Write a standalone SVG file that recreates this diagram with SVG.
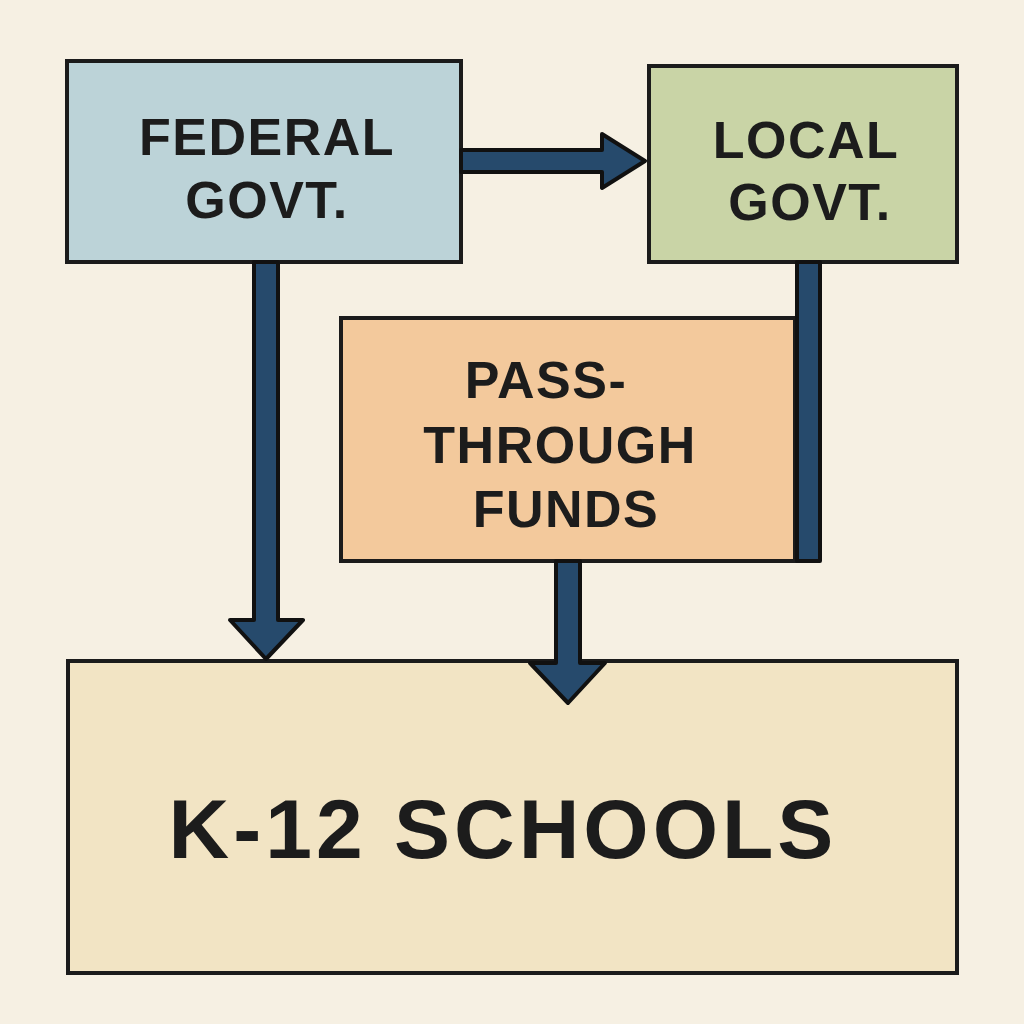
<svg xmlns="http://www.w3.org/2000/svg" width="1024" height="1024" viewBox="0 0 1024 1024">
<style>
.box{stroke:#1b1b1b;stroke-width:4}
.t{font-family:"Liberation Sans",Arial,sans-serif;font-weight:700;fill:#1c1c1c;text-anchor:middle;letter-spacing:1.5px}
.arr{fill:#264a6c;stroke:#111;stroke-width:4;stroke-linejoin:round}
</style>
<rect width="1024" height="1024" fill="#f6f0e3"/>
<g id="federal">
<rect class="box" x="67" y="61" width="394" height="201" fill="#bcd3d8"/>
<text class="t" x="267" y="155" font-size="52">FEDERAL</text>
<text class="t" x="267" y="218" font-size="52">GOVT.</text>
</g>
<g id="local">
<rect class="box" x="649" y="66" width="308" height="196" fill="#c9d4a6"/>
<text class="t" x="806" y="158" font-size="52">LOCAL</text>
<text class="t" x="810" y="220" font-size="52">GOVT.</text>
</g>
<g id="passthrough">
<rect class="box" x="341" y="318" width="454" height="243" fill="#f3c99c"/>
<text class="t" x="546" y="398" font-size="52">PASS-</text>
<text class="t" x="560" y="463" font-size="52">THROUGH</text>
<text class="t" x="566" y="527" font-size="52">FUNDS</text>
</g>
<g id="k12">
<rect class="box" x="68" y="661" width="889" height="312" fill="#f2e4c4"/>
<text class="t" x="503" y="858" font-size="84" style="letter-spacing:4px">K-12 SCHOOLS</text>
</g>
<g id="connectors">
<path class="arr" d="M461,150 H602 V134 L645,161 L602,188 V172 H461 Z"/>
<path class="arr" d="M254,262 V620 H230 L266,659 L303,620 H278 V262 Z"/>
<path class="arr" d="M797,262 V561 H820 V262 Z"/>
<path class="arr" d="M556,561 V663 H530 L568,703 L605,663 H580 V561 Z"/>
</g>
</svg>
